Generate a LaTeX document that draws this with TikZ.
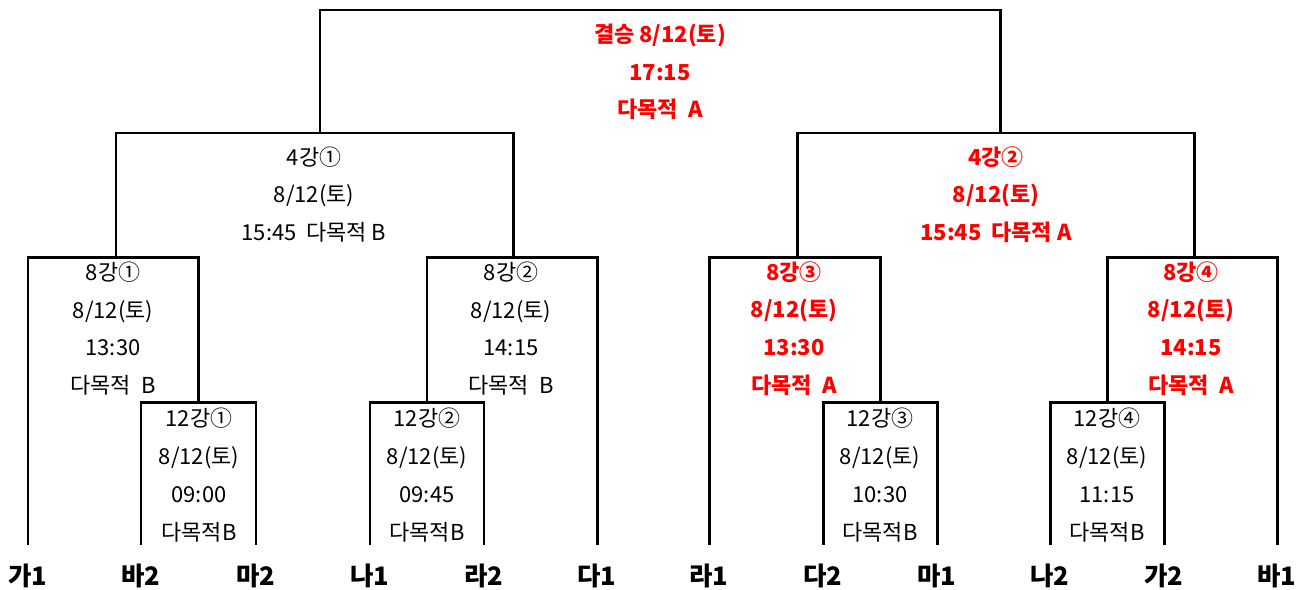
\documentclass[tikz,border=0pt]{standalone}
\usepackage{fontspec}
\setmainfont{Noto Sans CJK KR}

\begin{document}
\begin{tikzpicture}[x=0.02cm, y=-0.02cm, line width=1.7pt,
  info/.style={align=center, font=\fontsize{12.5}{21.5}\selectfont},
  hot/.style={align=center, text=red, font=\fontsize{12.5}{21.5}\selectfont\bfseries},
  team/.style={font=\fontsize{14.5}{16}\selectfont\bfseries}]

\useasboundingbox (0, 0) rectangle (1308, 589);

\coordinate (fin) at (660, 10);

\coordinate (s1) at (320, 133);
\coordinate (s2) at (1000, 133);

\coordinate (q1) at (116, 257);
\coordinate (q2) at (513, 257);
\coordinate (q3) at (797, 257);
\coordinate (q4) at (1194, 257);

\coordinate (r1) at (198.5, 402);
\coordinate (r2) at (427, 402);
\coordinate (r3) at (880, 402);
\coordinate (r4) at (1107, 402);

\foreach \x/\n/\t in {28/ga1/가1, 141/ba2/바2, 256/ma2/마2, 370/na1/나1,
    484/ra2/라2, 597/da1/다1, 709/ra1/라1, 823/da2/다2,
    937/ma1/마1, 1050/na2/나2, 1164/ga2/가2, 1277/ba1/바1} {
  \node[team] (\n) at (\x, 576) {\t};
  \coordinate (\n-top) at (\x, 545);
}

\draw (ga1-top) |- (q1) -| (r1);
\draw (ba2-top) |- (r1) -| (ma2-top);
\draw (r2) |- (q2) -| (da1-top);
\draw (na1-top) |- (r2) -| (ra2-top);
\draw (ra1-top) |- (q3) -| (r3);
\draw (da2-top) |- (r3) -| (ma1-top);
\draw (r4) |- (q4) -| (ba1-top);
\draw (na2-top) |- (r4) -| (ga2-top);

\draw (q1) |- (s1) -| (q2);
\draw (q3) |- (s2) -| (q4);
\draw (s1) |- (fin) -| (s2);

\node[hot] (fintxt) at (660, 72) {결승 8/12(토)\\17:15\\다목적~ A};

\node[info] (s1txt) at (314, 194.5) {4강①\\8/12(토)\\15:45~ 다목적 B};
\node[hot] (s2txt) at (996, 194.5) {4강②\\8/12(토)\\15:45~ 다목적 A};

\node[info] (q1txt) at (113, 328.5) {8강①\\8/12(토)\\13:30\\다목적~ B};
\node[info] (q2txt) at (511, 328.5) {8강②\\8/12(토)\\14:15\\다목적~ B};
\node[hot] (q3txt) at (794, 328.5) {8강③\\8/12(토)\\13:30\\다목적~ A};
\node[hot] (q4txt) at (1191, 328.5) {8강④\\8/12(토)\\14:15\\다목적~ A};

\node[info] (r1txt) at (199, 475) {12강①\\8/12(토)\\09:00\\다목적B};
\node[info] (r2txt) at (427, 475) {12강②\\8/12(토)\\09:45\\다목적B};
\node[info] (r3txt) at (880, 475) {12강③\\8/12(토)\\10:30\\다목적B};
\node[info] (r4txt) at (1107, 475) {12강④\\8/12(토)\\11:15\\다목적B};

\end{tikzpicture}
\end{document}
